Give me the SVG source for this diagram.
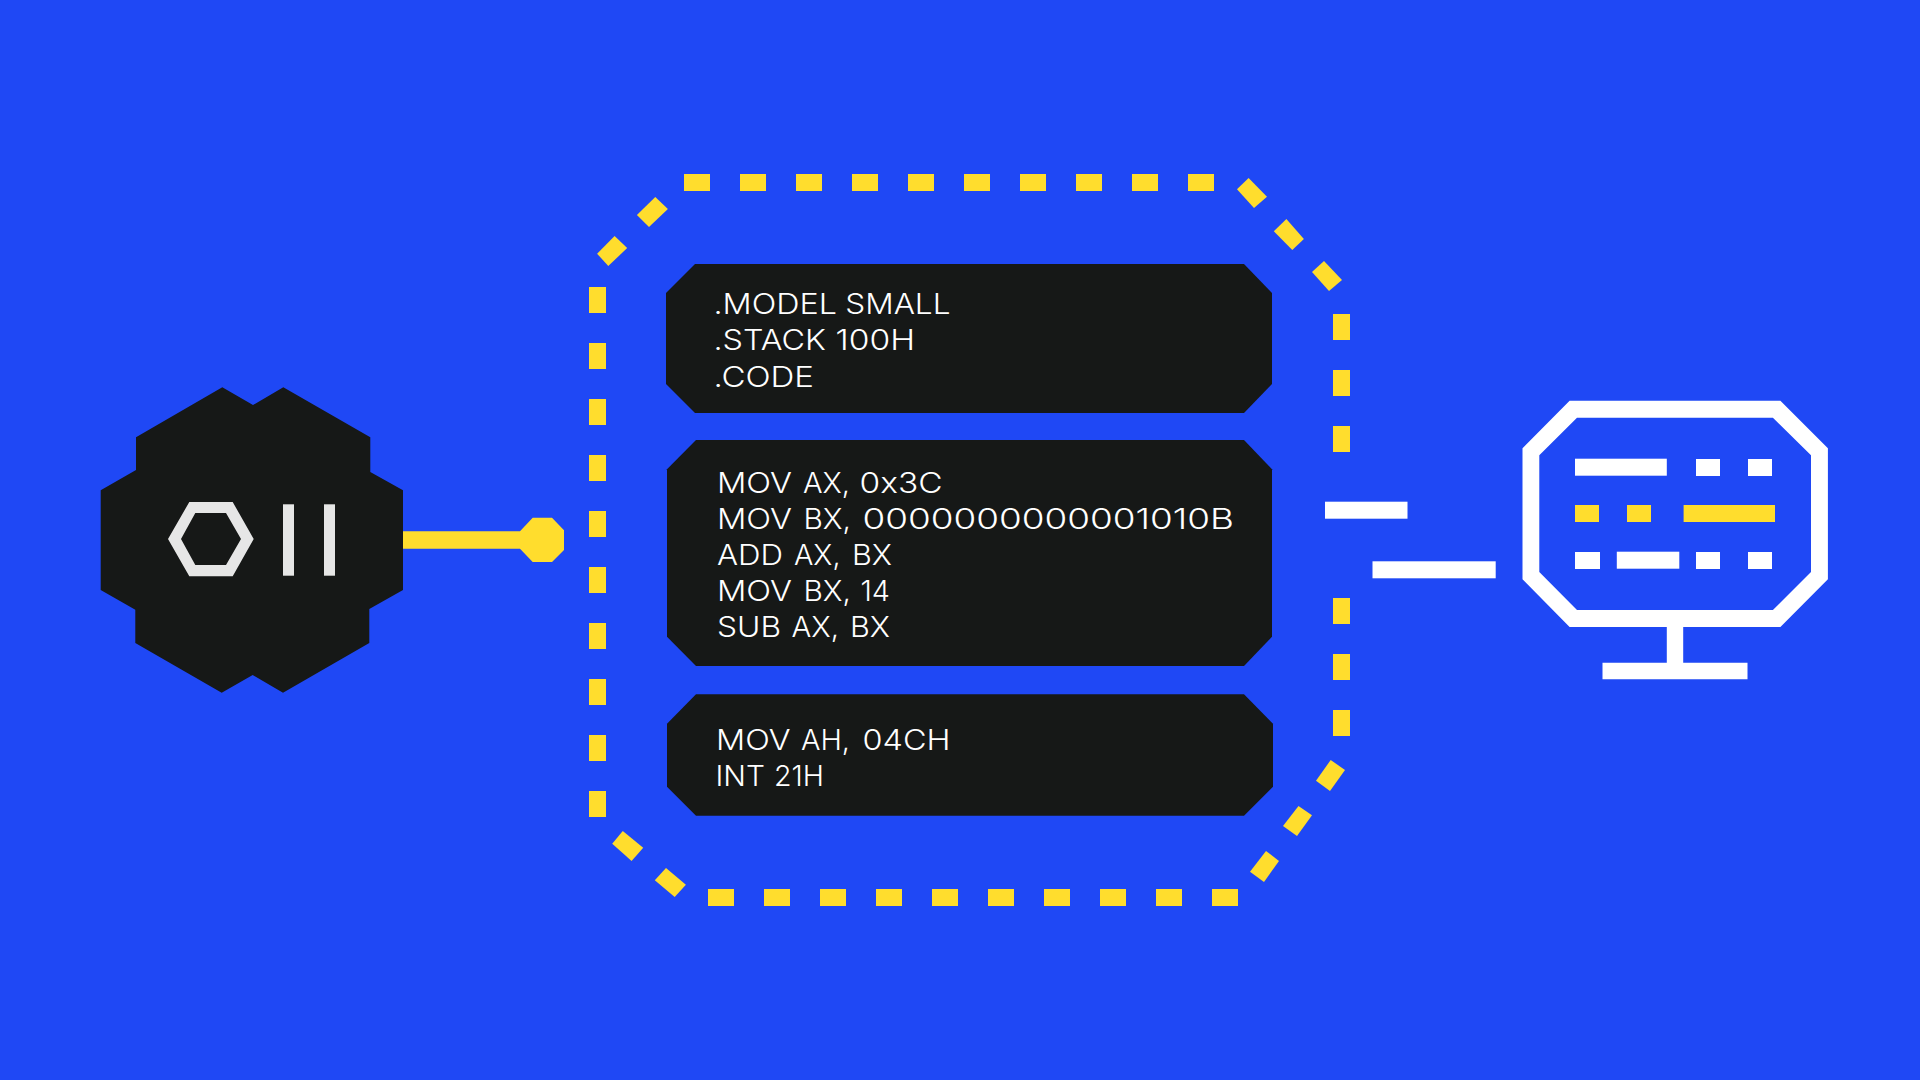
<svg xmlns="http://www.w3.org/2000/svg" width="1920" height="1080" viewBox="0 0 1920 1080">
<style>
.bg{fill:#1f48f5}
.k{fill:#161817}
.y{fill:#ffdd2d}
.w{fill:#fff}
.l{fill:#e6e6e6}
text{font-family:"Inter","Liberation Sans",sans-serif;font-size:28px;font-weight:300;fill:#fff}
</style>
<defs>
<rect id="h" width="26" height="17" class="y"/>
<rect id="v" width="17" height="26" class="y"/>
</defs>
<rect class="bg" width="1920" height="1080"/>
<g id="connectors">
<path class="y" d="M403 531.3H520L532.7 517.7H552L564 530.3V550L552 562H532.7L520 548.7H403Z"/>
<g id="dashed-frame">
<use href="#h" x="684" y="174"/><use href="#h" x="740" y="174"/><use href="#h" x="796" y="174"/><use href="#h" x="852" y="174"/><use href="#h" x="908" y="174"/><use href="#h" x="964" y="174"/><use href="#h" x="1020" y="174"/><use href="#h" x="1076" y="174"/><use href="#h" x="1132" y="174"/><use href="#h" x="1188" y="174"/>
<use href="#h" x="708" y="889"/><use href="#h" x="764" y="889"/><use href="#h" x="820" y="889"/><use href="#h" x="876" y="889"/><use href="#h" x="932" y="889"/><use href="#h" x="988" y="889"/><use href="#h" x="1044" y="889"/><use href="#h" x="1100" y="889"/><use href="#h" x="1156" y="889"/><use href="#h" x="1212" y="889"/>
<use href="#v" x="589" y="287"/><use href="#v" x="589" y="343"/><use href="#v" x="589" y="399"/><use href="#v" x="589" y="455"/><use href="#v" x="589" y="511"/><use href="#v" x="589" y="567"/><use href="#v" x="589" y="623"/><use href="#v" x="589" y="679"/><use href="#v" x="589" y="735"/><use href="#v" x="589" y="791"/>
<use href="#v" x="1333" y="314"/><use href="#v" x="1333" y="370"/><use href="#v" x="1333" y="426"/><use href="#v" x="1333" y="598"/><use href="#v" x="1333" y="654"/><use href="#v" x="1333" y="710"/>
<polygon class="y" points="655.3,197 667.9,209 649,227 636.9,215"/>
<polygon class="y" points="614.6,236 627.2,248 608.3,266 597.1,253.7"/>
<polygon class="y" points="1248.6,178 1267,196.7 1254,208 1237,189.3"/>
<polygon class="y" points="1286.4,219 1303.9,239 1292.3,250 1273.8,231.3"/>
<polygon class="y" points="1324,261 1342,280 1329,291 1312,272"/>
<polygon class="y" points="622.8,831 643.2,847.7 631.6,861 612.2,843.7"/>
<polygon class="y" points="666,868 685.9,884.7 674.7,897 654.8,880.3"/>
<polygon class="y" points="1266,851 1279,861 1264,882 1250,871.7"/>
<polygon class="y" points="1298.5,806 1312,815.3 1297,836 1283,826"/>
<polygon class="y" points="1330.7,760 1345,770 1330,791 1316,780.7"/>
</g>
<rect class="w" x="1325" y="501.7" width="82.5" height="17"/>
<rect class="w" x="1372.5" y="561.3" width="123.2" height="17"/>
</g>
<g id="node-chip">
<polygon class="k" points="222.3,387.3 253,405 283.3,387.3 370.3,437.3 370.3,472 403,490.3 403,590 369.3,609 369.3,643 283,692.7 252.7,675 221.7,692.7 135.3,643 135.3,609.7 100.7,590 100.7,490.3 136,470 136,437.3"/>
<path class="l" fill-rule="evenodd" d="M189.3 502H232.7L253.7 539L232.7 576.3H189.3L168 539ZM195.3 513L181 539L195.3 565H226L241 539L226 513Z"/>
<rect class="l" x="283" y="504.3" width="11" height="71.4"/>
<rect class="l" x="324" y="504.3" width="11" height="71.4"/>
</g>
<g id="node-code-1">
<polygon class="k" points="695,264 1244,264 1272,293 1272,384 1244,413 695,413 666,384 666,293"/>
<text y="313.5"><tspan x="713.5" textLength="123.5" lengthAdjust="spacingAndGlyphs">.MODEL</tspan> <tspan x="845.3" textLength="105.2" lengthAdjust="spacingAndGlyphs">SMALL</tspan></text>
<text y="350"><tspan x="713.5" textLength="112.5" lengthAdjust="spacingAndGlyphs">.STACK</tspan> <tspan x="835.6" textLength="79.4" lengthAdjust="spacingAndGlyphs">100H</tspan></text>
<text x="713.5" y="386.5" textLength="100.5" lengthAdjust="spacingAndGlyphs">.CODE</text>
</g>
<g id="node-code-2">
<polygon class="k" points="696,440 1244,440 1272,469.3 1272,636.7 1244,666 696,666 667,636.7 667,469.3"/>
<text y="492.5"><tspan x="717" textLength="75" lengthAdjust="spacingAndGlyphs">MOV</tspan> <tspan x="803" textLength="47" lengthAdjust="spacingAndGlyphs">AX,</tspan> <tspan x="859.5" textLength="83" lengthAdjust="spacingAndGlyphs">0x3C</tspan></text>
<text y="528.5"><tspan x="717" textLength="75" lengthAdjust="spacingAndGlyphs">MOV</tspan> <tspan x="803.5" textLength="47.5" lengthAdjust="spacingAndGlyphs">BX,</tspan> <tspan x="862.5" textLength="371.5" lengthAdjust="spacingAndGlyphs">0000000000001010B</tspan></text>
<text y="564.5"><tspan x="717" textLength="66" lengthAdjust="spacingAndGlyphs">ADD</tspan> <tspan x="794" textLength="46.5" lengthAdjust="spacingAndGlyphs">AX,</tspan> <tspan x="852" textLength="40" lengthAdjust="spacingAndGlyphs">BX</tspan></text>
<text y="600.5"><tspan x="717" textLength="75" lengthAdjust="spacingAndGlyphs">MOV</tspan> <tspan x="803.5" textLength="47.5" lengthAdjust="spacingAndGlyphs">BX,</tspan> <tspan x="860.5" textLength="29.5" lengthAdjust="spacingAndGlyphs">14</tspan></text>
<text y="637"><tspan x="717" textLength="64" lengthAdjust="spacingAndGlyphs">SUB</tspan> <tspan x="791.5" textLength="47.5" lengthAdjust="spacingAndGlyphs">AX,</tspan> <tspan x="850" textLength="40" lengthAdjust="spacingAndGlyphs">BX</tspan></text>
</g>
<g id="node-code-3">
<polygon class="k" points="696,694.3 1244,694.3 1273,723.7 1273,786.7 1244,815.7 696,815.7 667,786.7 667,723.7"/>
<text y="750"><tspan x="716" textLength="74.5" lengthAdjust="spacingAndGlyphs">MOV</tspan> <tspan x="801" textLength="49" lengthAdjust="spacingAndGlyphs">AH,</tspan> <tspan x="862.5" textLength="88" lengthAdjust="spacingAndGlyphs">04CH</tspan></text>
<text y="786"><tspan x="715.5" textLength="49.5" lengthAdjust="spacingAndGlyphs">INT</tspan> <tspan x="774" textLength="50" lengthAdjust="spacingAndGlyphs">21H</tspan></text>
</g>
<g id="node-monitor">
<path class="w" fill-rule="evenodd" d="M1569.6 400.7H1780.4L1827.9 448.3V579.3L1780.4 627H1683.2V662.7H1747.5V679.3H1602.5V662.7H1666.8V627H1569.6L1522.5 579.3V448.3ZM1577 417.7L1539.3 455.3V572L1577 610H1772.9L1811 572V455.3L1772.9 417.7Z"/>
<rect class="w" x="1575" y="458.7" width="91.8" height="17"/>
<rect class="w" x="1696" y="459" width="24" height="17"/>
<rect class="w" x="1748" y="459" width="24" height="17"/>
<rect class="y" x="1575" y="505" width="24" height="17"/>
<rect class="y" x="1627" y="505" width="24" height="17"/>
<rect class="y" x="1683.6" y="505" width="91.4" height="17"/>
<rect class="w" x="1575" y="552" width="25" height="17"/>
<rect class="w" x="1616.8" y="551.7" width="62.5" height="17"/>
<rect class="w" x="1696" y="552" width="24" height="17"/>
<rect class="w" x="1748" y="552" width="24" height="17"/>
</g>
</svg>
